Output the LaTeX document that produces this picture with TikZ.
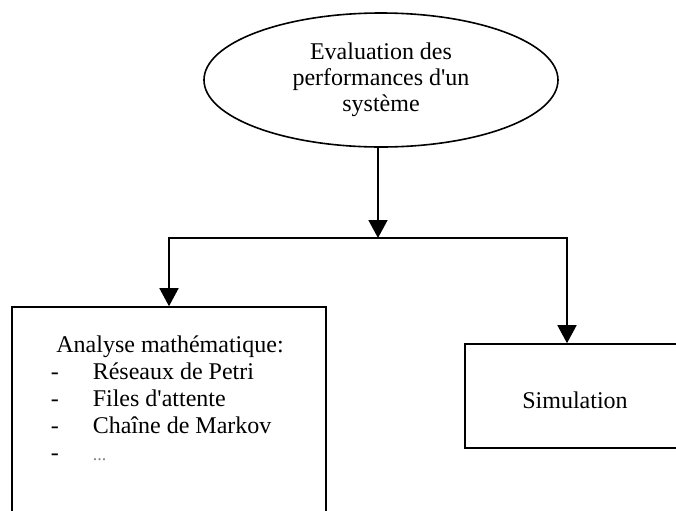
\documentclass[tikz,border=0pt]{standalone}
\usepackage{fontspec}
\setmainfont{Liberation Serif}
\usetikzlibrary{shapes.geometric,arrows.meta}
\begin{document}
\begin{tikzpicture}[x=0.5pt,y=-0.5pt,
  line width=0.8pt,
  every node/.style={font=\fontsize{12}{13}\selectfont},
  ell/.style={draw,ellipse,inner sep=0pt,minimum width=177pt,minimum height=67pt,align=center},
  box/.style={draw,rectangle,inner sep=0pt},
  arr/.style={-{Triangle[width=9.5pt,length=9pt]}},
  txt/.style={inner sep=0pt}]
\useasboundingbox (0,0) rectangle (676,510);
\clip (0,0) rectangle (676,510);
% ellipse
\node[ell] (eval) at (381,80) {Evaluation des\\performances d\textquotesingle un\\système};
% boxes
\node[box,minimum width=157pt,minimum height=111.5pt] (ana) at (169,418.5) {};
\node[box,minimum width=112.5pt,minimum height=52pt] (sim) at (577.5,396) {};
\node[txt] (simtxt) at (575,400) {Simulation};
\node[txt] (anatitle) at (170,347) {Analyse mathématique:};
\node[txt,anchor=base west] (anaitems) at (50,379) {\fontsize{12}{13.5}\selectfont
  \begin{tabular}[t]{@{}p{21pt}@{}l@{}}
  - & Réseaux de Petri\\
  - & Files d\textquotesingle attente\\
  - & Chaîne de Markov\\
  - & {\color{gray}\fontsize{9}{10}\selectfont ...}\\
  \end{tabular}};
% connectors
\coordinate (j) at (378,238);
\coordinate (rx) at (567,238);
\draw[arr] (j |- eval.south) -- (j);
\draw[arr] (j) -| (ana.north);
\draw[arr] (j) -- (rx) -- (rx |- sim.north);
\end{tikzpicture}
\end{document}
